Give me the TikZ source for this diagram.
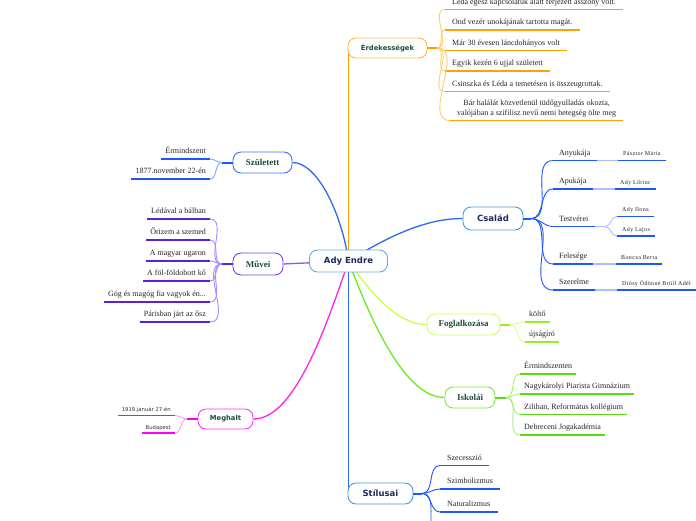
\documentclass[tikz,border=0pt]{standalone}
\usepackage{fontspec}
\setmainfont{Liberation Serif}
\newfontfamily\dvs{DejaVu Sans}
\newfontfamily\smallser[LetterSpace=6.0]{Liberation Serif}
\usetikzlibrary{backgrounds}
\definecolor{navyc}{HTML}{1A2B5C}
\definecolor{greenc}{HTML}{1E4D3C}
\definecolor{adyB}{HTML}{66AADE}
\definecolor{orU}{HTML}{FFA200}
\definecolor{orL}{HTML}{FFCC70}
\definecolor{orB}{HTML}{FFB84D}
\definecolor{blU}{HTML}{1E55FF}
\definecolor{blM}{HTML}{2D6AF0}
\definecolor{blL}{HTML}{85A8FF}
\definecolor{blL2}{HTML}{A8C0FF}
\definecolor{csB}{HTML}{4499DD}
\definecolor{szB}{HTML}{3377FF}
\definecolor{puU}{HTML}{5A1EE6}
\definecolor{puM}{HTML}{8855EE}
\definecolor{puL}{HTML}{AA8BFF}
\definecolor{puB}{HTML}{7A3CF0}
\definecolor{maU}{HTML}{FF00EE}
\definecolor{maM}{HTML}{FF22EE}
\definecolor{maL}{HTML}{FF99FF}
\definecolor{maB}{HTML}{FF33FF}
\definecolor{liU}{HTML}{99EE22}
\definecolor{liM}{HTML}{CCFF44}
\definecolor{liL}{HTML}{D8FF88}
\definecolor{liB}{HTML}{CCFF66}
\definecolor{grU}{HTML}{55DD11}
\definecolor{grM}{HTML}{66EE22}
\definecolor{grL}{HTML}{A6F07A}
\definecolor{grB}{HTML}{77EE33}
\tikzset{
  mainbox/.style={draw=#1, rounded corners=8pt, line width=0.9pt, fill=white, inner sep=2pt},
  navytxt/.style={font=\dvs\bfseries\fontsize{8.5}{10}\selectfont, text=navyc},
  gsans/.style={font=\dvs\bfseries\fontsize{6.8}{8}\selectfont, text=greenc},
  gser/.style={font=\bfseries\fontsize{9}{10}\selectfont, text=greenc},
  leaftxt/.style={font=\fontsize{8}{9.5}\selectfont, text=black!85, inner xsep=#1, inner ysep=3pt, text height=5.8pt, text depth=2pt},
  leaftxt/.default=5pt,
  smalltxt/.style={font=\smallser\fontsize{6}{7}\selectfont, text=black!85, inner xsep=#1, inner ysep=3pt, text height=4.3pt, text depth=1.5pt},
  smalltxt/.default=5pt,
  tinysans/.style={font=\dvs\fontsize{5.3}{6.5}\selectfont, text=black!80, inner xsep=4pt, inner ysep=2.5pt, text height=4pt, text depth=1.2pt},
  conn/.style={draw=#1, line width=1.3pt},
  stub/.style={draw=#1, line width=2pt},
  uline/.style={draw=#1, line width=1.8pt},
  sub/.style={draw=#1, line width=0.9pt},
}
\begin{document}
\begin{tikzpicture}[x=1pt,y=-1pt]
\useasboundingbox (0,0) rectangle (696,520);
% central node
\node[mainbox=adyB, navytxt, minimum width=78pt, minimum height=22pt] (ady) at (348.5,261) {Ady Endre};
% main nodes
\node[mainbox=orB, gsans, minimum width=79pt, minimum height=20pt] (erd) at (387.5,48) {Érdekességek};
\node[mainbox=csB, navytxt, minimum width=60pt, minimum height=23pt] (csa) at (493,218.5) {Család};
\node[mainbox=liB, gser, minimum width=73pt, minimum height=21pt] (fog) at (463.5,324.5) {Foglalkozása};
\node[mainbox=grB, gser, minimum width=50pt, minimum height=21pt] (isk) at (470,397.5) {Iskolái};
\node[mainbox=csB, navytxt, minimum width=65pt, minimum height=21pt] (sti) at (380.5,493.5) {Stílusai};
\node[mainbox=szB, gser, minimum width=59pt, minimum height=21pt] (szu) at (262.5,162.5) {Született};
\node[mainbox=puB, gser, minimum width=50pt, minimum height=22pt] (muv) at (258,264) {Művei};
\node[mainbox=maB, gsans, minimum width=55pt, minimum height=20pt] (meg) at (225.5,419) {Meghalt};
% junctions
\coordinate (erdJ) at (437,48);
\coordinate (csaJ) at (531,218.5);
\coordinate (fogJ) at (510,324.5);
\coordinate (iskJ) at (506,397.5);
\coordinate (stiJ) at (422,493.5);
\coordinate (szuJ) at (222,162.5);
\coordinate (muvJ) at (222,264);
\coordinate (megJ) at (187,419);
% Erdekessegek leaves
\node[leaftxt=7pt, anchor=south west] (e0) at (445,9.5) {Léda egész kapcsolatuk alatt férjezett asszony volt.};
\node[leaftxt=7pt, anchor=south west] (e1) at (445,30) {Ond vezér unokájának tartotta magát.};
\node[leaftxt=7pt, anchor=south west] (e2) at (445,50.5) {Már 30 évesen láncdohányos volt};
\node[leaftxt=7pt, anchor=south west] (e3) at (445,71) {Egyik kezén 6 ujjal született};
\node[leaftxt=7pt, anchor=south west] (e4) at (445,91.5) {Csinszka és Léda a temetésen is összeugrottak.};
\node[leaftxt=7pt, anchor=south west, align=center] (e5) at (450,120.5) {Bár halálát közvetlenül tüdőgyulladás okozta,\\valójában a szifilisz nevű nemi betegség ölte meg};
% Csalad leaves
\node[leaftxt=6pt, anchor=south west] (c1) at (553,160.5) {Anyukája};
\node[leaftxt=6pt, anchor=south west] (c2) at (553,189) {Apukája};
\node[leaftxt=6pt, anchor=south west] (c3) at (553,226.5) {Testvérei};
\node[leaftxt=6pt, anchor=south west] (c4) at (553,264) {Felesége};
\node[leaftxt=6pt, anchor=south west] (c5) at (553,290) {Szerelme};
\coordinate (tJ) at (605,226.5);
\node[smalltxt, anchor=south west] (d1) at (618,160.5) {Pásztor Mária};
\node[smalltxt, anchor=south west] (d2) at (615,189) {Ady Lőrinc};
\node[smalltxt, anchor=south west] (d3) at (617,216.5) {Ady Ilona};
\node[smalltxt, anchor=south west] (d4) at (617,236) {Ady Lajos};
\node[smalltxt, anchor=south west] (d5) at (616,264) {Boncza Berta};
\node[smalltxt, anchor=south west] (d6) at (617,290) {Diósy Ödönné Brüll Adél};
% Foglalkozasa leaves
\node[leaftxt=4pt, anchor=south west] (f1) at (525,322) {költő};
\node[leaftxt=4pt, anchor=south west] (f2) at (525,342) {újságíró};
% Iskolai leaves
\node[leaftxt=4pt, anchor=south west] (i1) at (520,374) {Érmindszenten};
\node[leaftxt=4pt, anchor=south west] (i2) at (520,394) {Nagykárolyi Piarista Gimnázium};
\node[leaftxt=4pt, anchor=south west] (i3) at (520,414.5) {Zilihan, Református kollégium};
\node[leaftxt=4pt, anchor=south west] (i4) at (520,435) {Debreceni Jogakadémia};
% Stilusai leaves
\node[leaftxt=7pt, anchor=south west] (s1) at (440,465.5) {Szecesszió};
\node[leaftxt=7pt, anchor=south west] (s2) at (440,489) {Szimbolizmus};
\node[leaftxt=7pt, anchor=south west] (s3) at (440,512) {Naturalizmus};
\coordinate (s4) at (440,538);
% Szuletett leaves
\node[leaftxt=4pt, anchor=south east] (b1) at (210,159) {Érmindszent};
\node[leaftxt=4pt, anchor=south east] (b2) at (210,179) {1877.november 22-én};
% Muvei leaves
\node[leaftxt=4pt, anchor=south east] (m1) at (210,219) {Lédával a bálban};
\node[leaftxt=4pt, anchor=south east] (m2) at (210,240) {Őrizem a szemed};
\node[leaftxt=4pt, anchor=south east] (m3) at (210,261) {A magyar ugaron};
\node[leaftxt=4pt, anchor=south east] (m4) at (210,281) {A föl-földobott kő};
\node[leaftxt=4pt, anchor=south east] (m5) at (210,302) {Góg és magóg fia vagyok én...};
\node[leaftxt=4pt, anchor=south east] (m6) at (210,322) {Párisban járt az ősz};
% Meghalt leaves
\node[tinysans, anchor=south east] (g1) at (175,415.5) {1919.január 27-én};
\node[tinysans, anchor=south east] (g2) at (175,433) {Budapest};

\begin{pgfonlayer}{background}
\fill[white] (0,0) rectangle (696,520);
% main connectors
\draw[conn=orU] (ady.center) -- (ady.center |- erd.center);
\draw[conn=blM] (ady.center) -- (ady.center |- sti.center);
\draw[conn=blM] (ady.center) .. controls (342,215) and (318,162.5) .. (szu.east);
\draw[conn=blM] (ady.center) .. controls (395,232) and (430,218.5) .. (csa.west);
\draw[conn=puM] (ady.center) -- (muv.east);
\draw[conn=maM] (ady.center) .. controls (322,340) and (292,419) .. (meg.east);
\draw[conn=liM] (ady.center) .. controls (372,295) and (398,324.5) .. (fog.west);
\draw[conn=grM] (ady.center) .. controls (378,340) and (410,397.5) .. (isk.west);
\end{pgfonlayer}
% stubs
\draw[stub=orU] (erd.east) -- (erdJ);
\draw[stub=blU] (csa.east) -- (csaJ);
\draw[stub=liU] (fog.east) -- (fogJ);
\draw[stub=grU] (isk.east) -- (iskJ);
\draw[stub=blU] (sti.east) -- (stiJ);
\draw[stub=blU] (szu.west) -- (szuJ);
\draw[stub=puU] (muv.west) -- (muvJ);
\draw[stub=maU] (meg.west) -- (megJ);
% Erdekessegek
\foreach \n in {e0,e1,e2,e3,e4,e5}{
  \draw[sub=orL] (erdJ) to[out=0,in=180] (\n.south west);
  \draw[uline=orU] (\n.south west) -- (\n.south east);
}
% Csalad
\foreach \n in {c1,c2,c3,c4,c5}{
  \draw[sub=blU] (csaJ) to[out=0,in=180] (\n.south west);
  \draw[uline=blU] (\n.south west) -- (\n.south east);
}
\foreach \n in {d1,d2,d3,d4,d5,d6}{
  \draw[uline=blU] (\n.south west) -- (\n.south east);
}
\draw[sub=blL2, line width=1.2pt] (c1.south east) -- (d1.south west);
\draw[sub=blL2, line width=1.2pt] (c2.south east) -- (d2.south west);
\draw[sub=blL2, line width=1.2pt] (c3.south east) -- (tJ);
\draw[sub=blL2] (tJ) to[out=0,in=180] (d3.south west);
\draw[sub=blL2] (tJ) to[out=0,in=180] (d4.south west);
\draw[sub=blL2, line width=1.2pt] (c4.south east) -- (d5.south west);
\draw[sub=blL2, line width=1.2pt] (c5.south east) -- (d6.south west);
% Foglalkozasa
\foreach \n in {f1,f2}{
  \draw[sub=liL] (fogJ) to[out=0,in=180] (\n.south west);
  \draw[uline=liU] (\n.south west) -- (\n.south east);
}
% Iskolai
\foreach \n in {i1,i2,i3,i4}{
  \draw[sub=grL] (iskJ) to[out=0,in=180] (\n.south west);
  \draw[uline=grU] (\n.south west) -- (\n.south east);
}
% Stilusai
\foreach \n in {s1,s2,s3}{
  \draw[sub=blU] (stiJ) to[out=0,in=180] (\n.south west);
  \draw[uline=blU] (\n.south west) -- (\n.south east);
}
\draw[sub=blU] (stiJ) to[out=0,in=180] (s4);
% Szuletett
\foreach \n in {b1,b2}{
  \draw[sub=blL] (szuJ) to[out=180,in=0] (\n.south east);
  \draw[uline=blU] (\n.south west) -- (\n.south east);
}
% Muvei
\foreach \n in {m1,m2,m3,m4,m5,m6}{
  \draw[sub=puL] (muvJ) to[out=180,in=0] (\n.south east);
  \draw[uline=puU] (\n.south west) -- (\n.south east);
}
% Meghalt
\foreach \n in {g1,g2}{
  \draw[sub=maL] (megJ) to[out=180,in=0] (\n.south east);
  \draw[uline=maU] (\n.south west) -- (\n.south east);
}
\end{tikzpicture}
\end{document}
